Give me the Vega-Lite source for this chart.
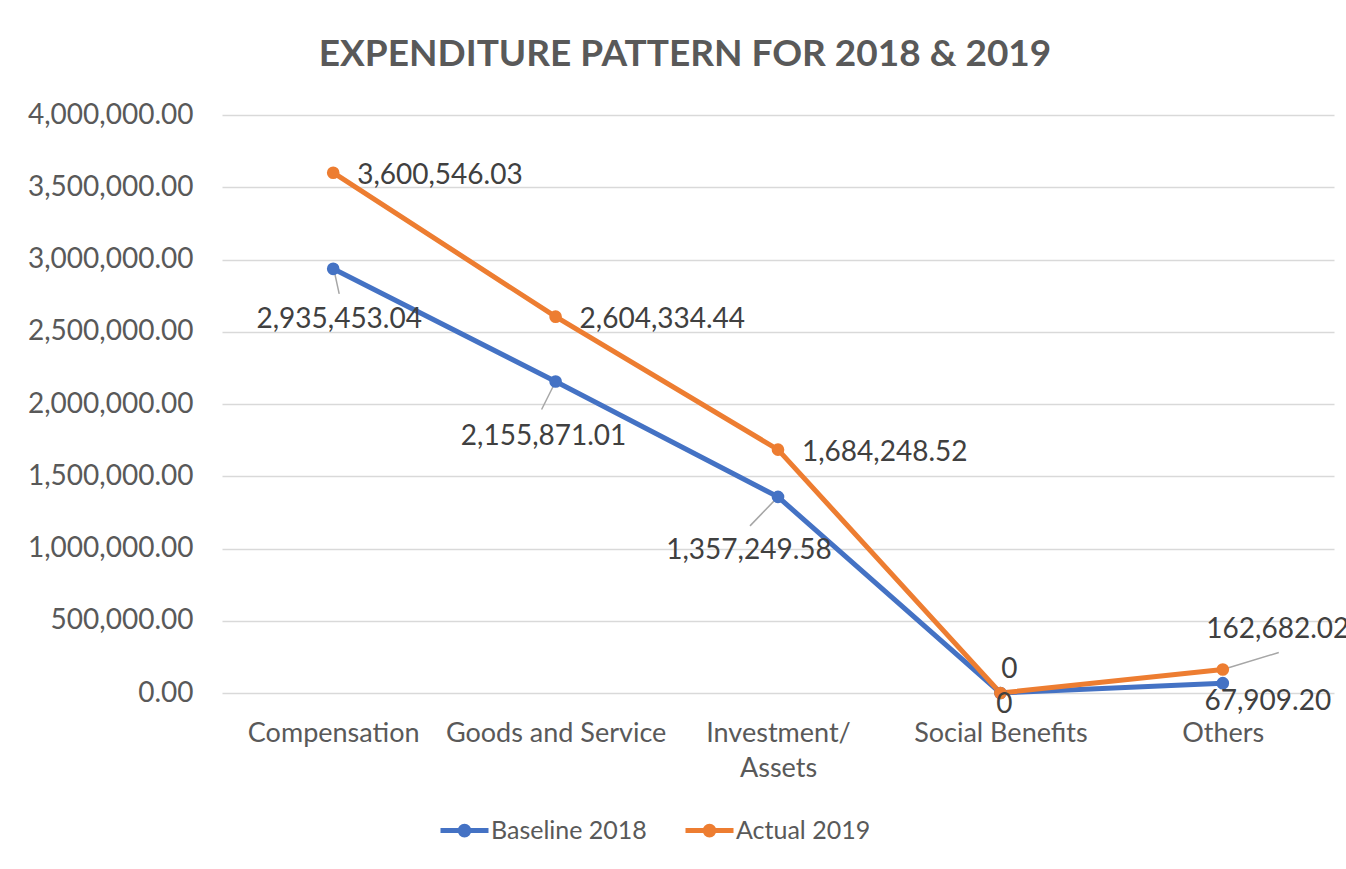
{
  "$schema": "https://vega.github.io/schema/vega-lite/v6.json",
  "width": 1112,
  "height": 578,
  "autosize": {"type": "none"},
  "padding": {"left": 222, "top": 115, "right": 12, "bottom": 176},
  "background": "white",
  "config": {
    "font": "Lato",
    "view": {"stroke": null},
    "axis": {"labelFont": "Lato", "labelColor": "#595959", "domain": false, "ticks": false, "title": null}
  },
  "title": {
    "text": "EXPENDITURE PATTERN FOR 2018 & 2019",
    "font": "Lato",
    "fontSize": 37,
    "fontWeight": "bold",
    "color": "#595959",
    "anchor": "middle",
    "dx": -93,
    "offset": 27
  },
  "data": {
    "values": [
      {"category": "Compensation", "series": "Baseline 2018", "value": 2935453.04},
      {"category": "Goods and Service", "series": "Baseline 2018", "value": 2155871.01},
      {"category": "Investment/ Assets", "series": "Baseline 2018", "value": 1357249.58},
      {"category": "Social Benefits", "series": "Baseline 2018", "value": 0},
      {"category": "Others", "series": "Baseline 2018", "value": 67909.20},
      {"category": "Compensation", "series": "Actual 2019", "value": 3600546.03},
      {"category": "Goods and Service", "series": "Actual 2019", "value": 2604334.44},
      {"category": "Investment/ Assets", "series": "Actual 2019", "value": 1684248.52},
      {"category": "Social Benefits", "series": "Actual 2019", "value": 0},
      {"category": "Others", "series": "Actual 2019", "value": 162682.02}
    ]
  },
  "transform": [
    {"calculate": "datum.value == 0 ? '0' : format(datum.value, ',.2f')", "as": "label"}
  ],
  "encoding": {
    "x": {
      "field": "category",
      "type": "nominal",
      "sort": ["Compensation", "Goods and Service", "Investment/ Assets", "Social Benefits", "Others"],
      "scale": {"type": "point", "padding": 0.5},
      "axis": {
        "labelAngle": 0,
        "labelPadding": 27,
        "labelFontSize": 27,
        "labelLimit": 0,
        "labelOverlap": false,
        "grid": false,
        "labelLineHeight": 35,
        "labelBaseline": "top",
        "labelExpr": "datum.label == 'Investment/ Assets' ? ['Investment/', 'Assets'] : datum.label"
      }
    },
    "y": {
      "field": "value",
      "type": "quantitative",
      "scale": {"domain": [0, 4000000], "nice": false},
      "axis": {
        "values": [0, 500000, 1000000, 1500000, 2000000, 2500000, 3000000, 3500000, 4000000],
        "format": ",.2f",
        "labelExpr": "datum.value == 0 ? '0.00' : datum.label",
        "labelFontSize": 28,
        "labelPadding": 29,
        "grid": true,
        "gridColor": "#D9D9D9",
        "gridWidth": 1.5
      }
    },
    "color": {
      "field": "series",
      "type": "nominal",
      "sort": ["Baseline 2018", "Actual 2019"],
      "scale": {"domain": ["Baseline 2018", "Actual 2019"], "range": ["#4472C4", "#ED7D31"]},
      "legend": {
        "title": null,
        "orient": "none",
        "direction": "horizontal",
        "legendX": 216,
        "legendY": 689,
        "symbolType": "M-1,0H1M0.18,0A0.18,0.18 0 1,1 -0.18,0A0.18,0.18 0 1,1 0.18,0",
        "symbolSize": 2304,
        "symbolStrokeWidth": 5,
        "labelFont": "Lato",
        "labelFontSize": 25,
        "labelColor": "#595959",
        "labelLimit": 0,
        "labelOffset": 0,
        "columnPadding": 28
      }
    }
  },
  "layer": [
    {"mark": {"type": "line", "strokeWidth": 5}},
    {
      "transform": [{"filter": "datum.series == 'Baseline 2018' && datum.category == 'Compensation'"}],
      "mark": {"type": "rule", "strokeWidth": 1.5, "xOffset": 1, "yOffset": 2, "x2Offset": 6, "y2Offset": 25},
      "encoding": {"x2": {"field": "category"}, "y2": {"field": "value"}, "color": {"value": "#A6A6A6"}}
    },
    {
      "transform": [{"filter": "datum.series == 'Baseline 2018' && datum.category == 'Goods and Service'"}],
      "mark": {"type": "rule", "strokeWidth": 1.5, "xOffset": 0, "yOffset": 0, "x2Offset": -14, "y2Offset": 28},
      "encoding": {"x2": {"field": "category"}, "y2": {"field": "value"}, "color": {"value": "#A6A6A6"}}
    },
    {
      "transform": [{"filter": "datum.series == 'Baseline 2018' && datum.category == 'Investment/ Assets'"}],
      "mark": {"type": "rule", "strokeWidth": 1.5, "xOffset": 0, "yOffset": 0, "x2Offset": -28, "y2Offset": 29},
      "encoding": {"x2": {"field": "category"}, "y2": {"field": "value"}, "color": {"value": "#A6A6A6"}}
    },
    {
      "transform": [{"filter": "datum.series == 'Actual 2019' && datum.category == 'Others'"}],
      "mark": {"type": "rule", "strokeWidth": 1.5, "xOffset": 0, "yOffset": 0, "x2Offset": 56, "y2Offset": -17},
      "encoding": {"x2": {"field": "category"}, "y2": {"field": "value"}, "color": {"value": "#A6A6A6"}}
    },
    {"mark": {"type": "point", "filled": true, "size": 160, "opacity": 1}},
    {
      "transform": [{"filter": "datum.series == 'Actual 2019' && (datum.category == 'Compensation' || datum.category == 'Goods and Service' || datum.category == 'Investment/ Assets')"}],
      "mark": {"type": "text", "align": "left", "baseline": "middle", "dx": 24, "dy": 3, "fontSize": 28},
      "encoding": {"text": {"field": "label"}, "color": {"value": "#404040"}}
    },
    {
      "transform": [{"filter": "datum.series == 'Baseline 2018' && datum.category == 'Compensation'"}],
      "mark": {"type": "text", "align": "center", "baseline": "middle", "dx": 6, "dy": 51, "fontSize": 28},
      "encoding": {"text": {"field": "label"}, "color": {"value": "#404040"}}
    },
    {
      "transform": [{"filter": "datum.series == 'Baseline 2018' && datum.category == 'Goods and Service'"}],
      "mark": {"type": "text", "align": "center", "baseline": "middle", "dx": -12, "dy": 56, "fontSize": 28},
      "encoding": {"text": {"field": "label"}, "color": {"value": "#404040"}}
    },
    {
      "transform": [{"filter": "datum.series == 'Baseline 2018' && datum.category == 'Investment/ Assets'"}],
      "mark": {"type": "text", "align": "center", "baseline": "middle", "dx": -29, "dy": 54, "fontSize": 28},
      "encoding": {"text": {"field": "label"}, "color": {"value": "#404040"}}
    },
    {
      "transform": [{"filter": "datum.series == 'Baseline 2018' && datum.category == 'Social Benefits'"}],
      "mark": {"type": "text", "align": "center", "baseline": "middle", "dx": 4, "dy": 12, "fontSize": 28},
      "encoding": {"text": {"field": "label"}, "color": {"value": "#404040"}}
    },
    {
      "transform": [{"filter": "datum.series == 'Actual 2019' && datum.category == 'Social Benefits'"}],
      "mark": {"type": "text", "align": "center", "baseline": "middle", "dx": 9, "dy": -23, "fontSize": 28},
      "encoding": {"text": {"field": "label"}, "color": {"value": "#404040"}}
    },
    {
      "transform": [{"filter": "datum.series == 'Baseline 2018' && datum.category == 'Others'"}],
      "mark": {"type": "text", "align": "center", "baseline": "middle", "dx": 45, "dy": 19, "fontSize": 28},
      "encoding": {"text": {"field": "label"}, "color": {"value": "#404040"}}
    },
    {
      "transform": [{"filter": "datum.series == 'Actual 2019' && datum.category == 'Others'"}],
      "mark": {"type": "text", "align": "center", "baseline": "middle", "dx": 55, "dy": -39, "fontSize": 28},
      "encoding": {"text": {"field": "label"}, "color": {"value": "#404040"}}
    }
  ]
}
